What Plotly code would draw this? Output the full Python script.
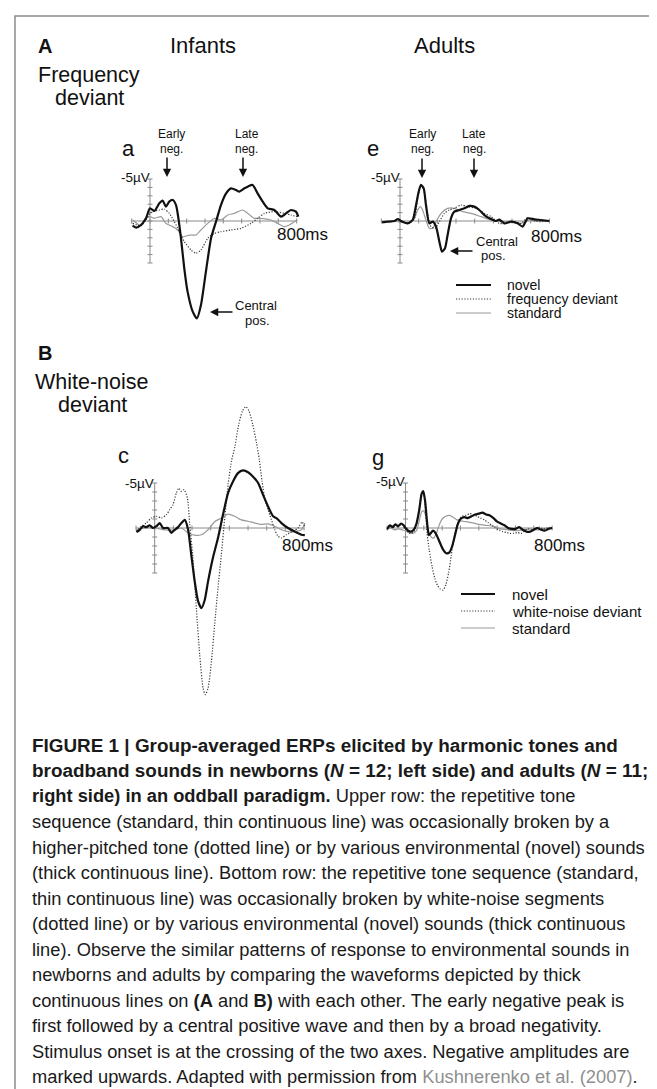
import plotly.graph_objects as go

W, H = 657, 1089

# ---------------- data (time in ms, amplitude in microvolts; negative plotted upward) -------------
# Panel a : infants, frequency deviant
t_a_novel = [-95, -76, -49, -22, 0, 24, 51, 69, 87, 105, 124, 142, 155, 169, 187, 205, 233, 256, 278, 305,
             333, 360, 387, 415, 442, 469, 487, 515, 533, 560, 587, 615, 642, 678, 715, 742, 769, 796, 809]
v_a_novel = [0.56, 0.79, 0.48, -0.32, -1.51, -1.19, -2.10, -2.42, -1.71, -2.30, -2.50, -1.90, -0.32, 2.06,
             5.63, 8.41, 10.79, 11.59, 10.0, 6.03, 2.06, 0.08, -1.90, -3.29, -3.89, -3.69, -3.49, -3.89,
             -4.09, -4.29, -3.29, -2.30, -1.51, -1.31, -0.52, -0.91, -1.31, -1.11, -0.52]
t_a_dev = [-95, -49, -22, 0, 24, 51, 78, 105, 133, 160, 187, 224, 251, 278, 315, 351, 387, 442, 496, 551,
           587, 624, 678, 733, 769, 805]
v_a_dev = [0.28, 0.56, -0.12, -0.91, -1.19, -1.31, -1.43, -0.91, 0.08, 1.27, 2.46, 3.45, 3.85, 3.45, 2.06,
           1.47, 1.27, 1.07, 0.87, 0.28, -0.32, -0.91, -1.11, -0.91, -0.71, -0.52]
t_a_std = [-95, -49, -22, 0, 24, 60, 87, 124, 151, 178, 215, 251, 278, 315, 351, 387, 424, 460, 505, 533,
           569, 605, 660, 696, 733, 760, 787, 805]
v_a_std = [-0.12, 0.56, -0.32, -0.52, -0.32, -0.52, 0.28, 0.67, 1.07, 1.87, 1.67, 1.67, 1.07, 0.28, -0.32,
           -0.12, -0.71, -0.91, -1.31, -0.91, -0.32, -0.32, -0.12, 0.28, 0.67, 0.48, 0.08, -0.12]

# Panel e : adults, frequency deviant
t_e_novel = [-96, -66, -30, -12, 5, 41, 68, 86, 100, 112, 127, 139, 157, 175, 193, 211, 225, 241, 255, 273,
             291, 318, 345, 371, 398, 425, 452, 479, 514, 532, 559, 595, 630, 657, 684, 720, 755, 800]
v_e_novel = [0.16, 0.08, 0.0, -0.24, 0.0, 0.28, -0.12, -1.90, -3.49, -4.29, -3.89, -1.90, 0.28, 0.08, 0.67,
             2.46, 3.65, 3.25, 1.67, -0.32, -1.11, -1.31, -1.51, -1.79, -1.71, -1.31, -0.71, -0.32, 0.0,
             -0.16, 0.28, 0.08, 0.28, 0.67, -0.32, -0.20, -0.12, 0.0]
t_e_dev = [-96, -30, -12, 14, 50, 77, 95, 112, 127, 145, 166, 188, 211, 238, 264, 291, 327, 363, 407, 452,
           488, 532, 568, 613, 648, 684, 720, 800]
v_e_dev = [0.08, 0.0, -0.24, 0.08, 0.28, -0.32, -2.70, -4.29, -3.69, -1.31, 0.67, 0.87, 0.08, -0.91, -1.31,
           -1.51, -1.90, -1.71, -1.51, -0.91, -0.52, 0.28, 0.28, 0.08, 0.28, -0.40, 0.0, 0.0]
t_e_std = [-96, -30, 5, 50, 77, 95, 109, 121, 139, 157, 175, 193, 220, 255, 291, 336, 380, 434, 488, 541,
           595, 648, 693, 746, 800]
v_e_std = [0.08, 0.0, 0.16, 0.16, -0.32, -1.31, -1.71, -1.31, -0.12, 0.87, 0.87, 0.08, -0.91, -1.51, -1.51,
           -1.11, -0.91, -0.52, -0.12, 0.08, 0.08, 0.28, -0.12, 0.08, 0.0]

# Panel c : infants, white-noise deviant
t_c_novel = [-98, -80, -62, -45, -27, -9, 9, 27, 45, 71, 89, 107, 125, 143, 161, 179, 196, 214, 232, 250,
             268, 286, 312, 339, 366, 393, 420, 446, 473, 500, 527, 554, 580, 607, 634, 652, 679, 714, 750,
             786, 804]
v_c_novel = [0.45, 0.2, -0.2, -0.1, -0.3, 0.0, -0.2, -0.55, 0.0, 0.0, 0.55, 0.2, -0.1, -0.55, -0.9, 0.2,
             3.0, 5.9, 8.1, 8.9, 8.0, 5.9, 3.3, 1.1, -1.5, -3.9, -5.2, -6.1, -6.4, -6.2, -5.7, -5.0, -3.7,
             -2.4, -1.3, -1.1, -0.55, 0.0, 0.4, 0.75, 0.8]
t_c_dev = [-98, -71, -45, -18, 9, 36, 63, 80, 98, 116, 129, 143, 157, 175, 188, 205, 223, 241, 259, 271,
           286, 304, 321, 339, 357, 375, 393, 411, 429, 450, 470, 488, 505, 525, 545, 560, 575, 589, 607,
           625, 643, 661, 679, 705, 741, 768, 789, 804]
v_c_dev = [0.37, -0.19, -0.56, -1.11, -1.30, -1.11, -1.48, -2.04, -2.59, -3.89, -4.44, -4.07, -4.26, -3.33,
           -0.37, 3.33, 8.89, 14.07, 17.78, 18.52, 17.78, 14.81, 10.74, 6.67, 2.96, -1.11, -4.81, -7.41,
           -9.0, -11.5, -13.0, -13.5, -13.0, -11.5, -9.5, -7.6, -5.2, -3.33, -2.04, -0.93, 0.19, 0.93,
           1.11, 0.74, 0.37, 0.0, -0.67, -0.19]
t_c_std = [-98, -54, 0, 54, 107, 143, 179, 214, 250, 286, 321, 357, 393, 429, 464, 500, 536, 571, 607, 643,
           679, 714, 750, 786, 804]
v_c_std = [0.2, 0.0, 0.0, 0.2, 0.2, 0.0, 0.55, 0.8, 0.75, 0.2, -0.7, -1.1, -1.55, -1.3, -0.9, -0.75, -0.55,
           -0.4, -0.45, -0.2, 0.2, 0.4, 0.4, 0.2, -0.55]

# Panel g : adults, white-noise deviant
t_g_novel = [-100, -85, -70, -55, -40, -25, -10, 0, 15, 30, 45, 60, 75, 88, 97, 107, 117, 127, 137, 150,
             165, 185, 205, 222, 240, 255, 270, 285, 300, 320, 340, 360, 380, 400, 420, 440, 460, 480, 500,
             520, 540, 560, 580, 600, 620, 640, 660, 680, 700, 720, 740, 760, 780, 800]
v_g_novel = [0.1, -0.3, -0.1, -0.4, -0.2, -0.5, -0.3, 0.0, 0.3, 0.4, 0.2, -0.5, -2.0, -3.8, -4.1, -3.0,
             -0.8, 0.8, 0.6, 0.3, 0.6, 1.5, 2.4, 2.8, 2.7, 2.0, 0.8, -0.4, -1.0, -1.2, -1.1, -1.3, -1.5,
             -1.6, -1.7, -1.5, -1.4, -1.1, -0.7, -0.5, -0.3, 0.0, 0.1, 0.1, -0.1, 0.2, 0.4, 0.4, 0.2, 0.0,
             0.2, 0.3, 0.1, 0.0]
t_g_dev = [-100, -85, -70, -55, -40, -25, -10, 0, 15, 30, 45, 60, 75, 88, 97, 107, 117, 130, 145, 160, 175,
           190, 205, 220, 235, 250, 265, 280, 295, 310, 330, 350, 370, 390, 410, 430, 450, 470, 490, 510,
           530, 550, 570, 590, 610, 630, 650, 670, 690, 710, 730, 750, 770, 800]
v_g_dev = [0.2, -0.2, 0.0, -0.3, -0.1, -0.4, -0.2, 0.1, 0.5, 0.6, 0.4, -0.3, -2.2, -3.9, -4.0, -2.5, 0.5,
           2.5, 4.3, 5.6, 6.4, 6.8, 6.9, 6.3, 5.0, 3.0, 1.0, -0.3, -1.0, -1.3, -1.4, -1.6, -1.5, -1.3,
           -1.1, -0.9, -0.6, -0.3, 0.0, 0.2, 0.4, 0.5, 0.6, 0.6, 0.5, 0.6, 0.3, 0.1, 0.2, 0.0, -0.1, 0.1,
           0.0, 0.0]
t_g_std = [-100, -80, -60, -40, -20, 0, 20, 40, 60, 75, 88, 100, 112, 125, 140, 155, 170, 185, 200, 220,
           240, 260, 280, 300, 330, 360, 400, 440, 480, 520, 560, 600, 640, 680, 720, 760, 800]
v_g_std = [0.1, 0.0, 0.2, 0.1, 0.2, 0.3, 0.5, 0.6, 0.3, -0.8, -1.8, -1.9, -1.2, 0.2, 1.0, 1.1, 0.5, -0.4,
           -1.0, -1.3, -1.4, -1.2, -0.9, -0.8, -0.7, -0.6, -0.4, -0.3, -0.2, 0.1, 0.2, 0.3, 0.2, 0.1, 0.2,
           0.1, 0.0]

x_ticks = [-100, 0, 100, 200, 300, 400, 500, 600, 700, 800]
y_ticks = [-5, -4, -3, -2, -1, 0, 1, 2, 3, 4, 5]

legend_top = ["novel", "frequency deviant", "standard"]
legend_bottom = ["novel", "white-noise deviant", "standard"]

caption_lines = [
    "<b>FIGURE 1 | Group-averaged ERPs elicited by harmonic tones and</b>",
    "<b>broadband sounds in newborns (<i>N</i> = 12; left side) and adults (<i>N</i> = 11;</b>",
    "<b>right side) in an oddball paradigm.</b> Upper row: the repetitive tone",
    "sequence (standard, thin continuous line) was occasionally broken by a",
    "higher-pitched tone (dotted line) or by various environmental (novel) sounds",
    "(thick continuous line). Bottom row: the repetitive tone sequence (standard,",
    "thin continuous line) was occasionally broken by white-noise segments",
    "(dotted line) or by various environmental (novel) sounds (thick continuous",
    "line). Observe the similar patterns of response to environmental sounds in",
    "newborns and adults by comparing the waveforms depicted by thick",
    "continuous lines on <b>(A</b> and <b>B)</b> with each other. The early negative peak is",
    "first followed by a central positive wave and then by a broad negativity.",
    "Stimulus onset is at the crossing of the two axes. Negative amplitudes are",
    "marked upwards. Adapted with permission from <span style='color:#8f8f8f'>Kushnerenko et al. (2007)</span>.",
]

# ---------------- layout helpers ----------------
FONT = "Liberation Sans, Arial, Helvetica, sans-serif"
NOVEL = dict(color="#111111", width=2.2)
DEV = dict(color="#3a3a3a", width=1.2, dash="1.2px,1.6px")
STD = dict(color="#9a9a9a", width=1.2)
AXC = "#8a8a8a"


def px(x, y):
    return x / W, 1 - y / H


# panel geometry: origin px, px per ms, px per uV, plotting box px
panels = [
    dict(name="a", ox=142.0, oy=213.0, sx=0.1833, sy=8.4, box=(100, 150, 330, 335),
         series=[(t_a_std, v_a_std, STD), (t_a_dev, v_a_dev, DEV), (t_a_novel, v_a_novel, NOVEL)]),
    dict(name="e", ox=392.0, oy=213.0, sx=0.1867, sy=8.4, box=(350, 150, 600, 335),
         series=[(t_e_std, v_e_std, STD), (t_e_dev, v_e_dev, DEV), (t_e_novel, v_e_novel, NOVEL)]),
    dict(name="c", ox=146.7, oy=520.0, sx=0.1867, sy=9.0, box=(100, 385, 330, 705),
         series=[(t_c_std, v_c_std, STD), (t_c_dev, v_c_dev, DEV), (t_c_novel, v_c_novel, NOVEL)]),
    dict(name="g", ox=397.5, oy=520.0, sx=0.1833, sy=9.0, box=(350, 385, 600, 705),
         series=[(t_g_std, v_g_std, STD), (t_g_dev, v_g_dev, DEV), (t_g_novel, v_g_novel, NOVEL)]),
]

fig = go.Figure()
layout_axes = {}
shapes = []

for i, p in enumerate(panels, start=1):
    sfx = "" if i == 1 else str(i)
    xa, ya = "x" + sfx, "y" + sfx
    x0, y0, x1, y1 = p["box"]
    layout_axes["xaxis" + sfx] = dict(domain=[x0 / W, x1 / W],
                                      range=[(x0 - p["ox"]) / p["sx"], (x1 - p["ox"]) / p["sx"]],
                                      visible=False, anchor=ya, fixedrange=True)
    layout_axes["yaxis" + sfx] = dict(domain=[1 - y1 / H, 1 - y0 / H],
                                      range=[(y1 - p["oy"]) / p["sy"], (y0 - p["oy"]) / p["sy"]],
                                      visible=False, anchor=xa, fixedrange=True)
    # axes drawn in data coordinates
    shapes.append(dict(type="line", xref=xa, yref=ya, x0=x_ticks[0], x1=x_ticks[-1], y0=0, y1=0,
                       line=dict(color=AXC, width=1), layer="below"))
    shapes.append(dict(type="line", xref=xa, yref=ya, x0=0, x1=0, y0=y_ticks[0], y1=y_ticks[-1],
                       line=dict(color=AXC, width=1), layer="below"))
    dy = 2.5 / p["sy"]
    dx = 2.5 / p["sx"]
    for tx in x_ticks:
        shapes.append(dict(type="line", xref=xa, yref=ya, x0=tx, x1=tx, y0=-dy, y1=dy,
                           line=dict(color=AXC, width=1), layer="below"))
    for ty in y_ticks:
        shapes.append(dict(type="line", xref=xa, yref=ya, x0=-dx, x1=dx, y0=ty, y1=ty,
                           line=dict(color=AXC, width=1), layer="below"))
    for t, v, style in p["series"]:
        fig.add_trace(go.Scatter(x=t, y=v, mode="lines", line=dict(**style, shape="spline", smoothing=0.6),
                                 xaxis=xa, yaxis=ya, showlegend=False, hoverinfo="skip"))

# frame around figure
fx0, fy0 = px(7, 8)
fx1, fy1 = px(680, 1110)
shapes.append(dict(type="rect", xref="paper", yref="paper", x0=fx0, x1=fx1, y0=fy1, y1=fy0,
                   line=dict(color="#8c8c8c", width=1.5)))

annotations = []


def text(x, y, s, size, anchor="center", color="#111111", family=FONT):
    xp, yp = px(x, y)
    annotations.append(dict(x=xp, y=yp, xref="paper", yref="paper", text=s, showarrow=False,
                            xanchor=anchor, yanchor="middle", font=dict(size=size, color=color, family=family),
                            align=anchor if anchor != "center" else "center"))


def arrow(xh, yh, xt, yt):
    xp, yp = px(xh, yh)
    annotations.append(dict(x=xp, y=yp, xref="paper", yref="paper", ax=xt - xh, ay=yt - yh,
                            axref="pixel", ayref="pixel", showarrow=True, arrowhead=2, arrowsize=1.1,
                            arrowwidth=1.5, arrowcolor="#111111", text=""))


# headings
text(28, 38, "<b>A</b>", 20, anchor="left")
text(195, 38, "Infants", 22)
text(436, 38, "Adults", 22)
text(81, 67, "Frequency", 21.5)
text(81, 90, "deviant", 21.5)
text(28, 345, "<b>B</b>", 20, anchor="left")
text(84, 374, "White-noise", 21.5)
text(84, 397, "deviant", 21.5)

# panel letters
text(120, 140, "a", 22)
text(365, 140, "e", 22)
text(115, 447, "c", 22)
text(370, 450, "g", 22)

# -5uV labels
text(144, 170, "-5\u00b5V", 13.5, anchor="right")
text(394, 169, "-5\u00b5V", 13.5, anchor="right")
text(148, 475, "-5\u00b5V", 13.5, anchor="right")
text(399, 474, "-5\u00b5V", 13.5, anchor="right")

# 800ms labels
text(267, 227, "800ms", 17, anchor="left")
text(521, 229, "800ms", 17, anchor="left")
text(272, 537, "800ms", 17, anchor="left")
text(524, 537, "800ms", 17, anchor="left")

# early / late negativity labels and arrows
text(163, 126, "Early", 12)
text(163, 141, "neg.", 12)
text(239, 126, "Late", 12)
text(238, 141, "neg.", 12)
arrow(159, 169, 159, 148)
arrow(235, 169, 235, 148)
text(414, 126, "Early", 12)
text(414, 141, "neg.", 12)
text(466, 126, "Late", 12)
text(466, 141, "neg.", 12)
arrow(414, 170, 414, 149)
arrow(466, 170, 466, 149)

# central positivity labels
text(248, 297, "Central", 13)
text(249, 312, "pos.", 13)
arrow(202, 304, 226, 304)
text(489, 233, "Central", 13)
text(485, 248, "pos.", 13)
arrow(442, 243, 466, 243)

# legends (swatches + labels)
for rows, ys, xl, xt, fs in ((legend_top, (277, 291, 305), (448, 483), 497, 14),
                             (legend_bottom, (586, 603, 620), (453, 487), 502, 15)):
    for lab, yy, st in zip(rows, ys, (NOVEL, DEV, STD)):
        a0, b0 = px(xl[0], yy)
        a1, _ = px(xl[1], yy)
        shapes.append(dict(type="line", xref="paper", yref="paper", x0=a0, x1=a1, y0=b0, y1=b0,
                           line=dict(color=st["color"], width=st["width"], dash=st.get("dash", "solid"))))
        text(xt, yy, lab, fs, anchor="left")

# caption
for k, line in enumerate(caption_lines):
    size = 18.9 if k < 2 else 18.3
    text(22, 737 + 25.5 * k, line, size, anchor="left", color="#1a1a1a")

fig.update_layout(width=W, height=H, margin=dict(l=0, r=0, t=0, b=0), paper_bgcolor="white",
                  plot_bgcolor="rgba(0,0,0,0)", showlegend=False, shapes=shapes, annotations=annotations,
                  font=dict(family=FONT), **layout_axes)

fig.write_html("out.html")
